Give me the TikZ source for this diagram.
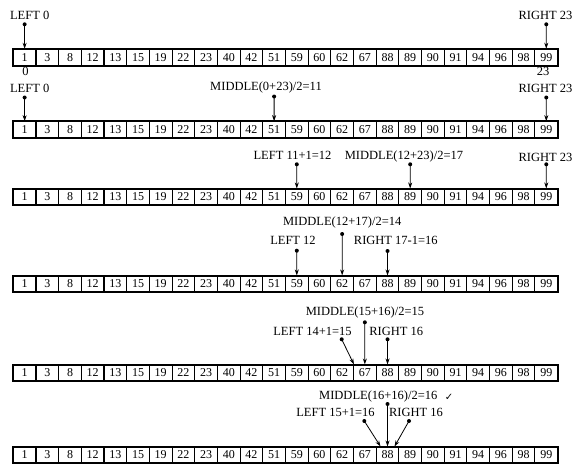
\documentclass[tikz,border=0pt]{standalone}
\usepackage{fontspec}
\setmainfont{Liberation Serif}
\newfontfamily\symfont{DejaVu Sans}
\usetikzlibrary{arrows.meta,calc}
\begin{document}
\begin{tikzpicture}[x=1pt,y=-1pt,
  cell/.style={draw, line width=1.1pt, minimum width=22.68pt, minimum height=16pt, inner sep=0pt, font=\fontsize{12}{12}\selectfont},
  lbl/.style={inner sep=0pt, anchor=base, font=\fontsize{12.5}{13}\selectfont},
  ptr/.style={-{Stealth[length=6pt,width=4pt]}, line width=0.8pt},
  dotc/.style={circle, fill, inner sep=0pt, minimum size=4pt}]
\useasboundingbox (0,0) rectangle (579,474);
\fill[white] (0,0) rectangle (579,474);
% arrays
\foreach \r/\t in {1/49.3, 2/121.7, 3/189, 4/276, 5/365, 6/447} {
  \foreach \v [count=\i from 0] in {1,3,8,12,13,15,19,22,23,40,42,51,59,60,62,67,88,89,90,91,94,96,98,99} {
    \node[cell] (r\r c\i) at ({13.3+22.68*(\i+0.5)}, {\t+8}) {\v};
  }
  \draw[line width=1.5pt] (r\r c0.north west) rectangle (r\r c23.south east);
}
% row 1
\node[lbl] (l1L) at (29.7,19) {LEFT 0};
\node[dotc] (d1L) at (24.64,24.3) {};
\draw[ptr] (d1L.center) -- (r1c0.north);
\node[lbl] (l1R) at (545.5,19) {RIGHT 23};
\node[dotc] (d1R) at (546.28,24.3) {};
\draw[ptr] (d1R.center) -- (r1c23.north);
\node[lbl] (i1L) at (25.5,75.5) {0};
\node[lbl] (i1R) at (543,75.5) {23};
% row 2
\node[lbl] (l2L) at (29.7,92) {LEFT 0};
\node[dotc] (d2L) at (24.64,97.5) {};
\draw[ptr] (d2L.center) -- (r2c0.north);
\node[lbl] (l2M) at (266,90.7) {MIDDLE(0+23)/2=11};
\node[dotc] (d2M) at (274.12,96.5) {};
\draw[ptr] (d2M.center) -- (r2c11.north);
\node[lbl] (l2R) at (545.5,92) {RIGHT 23};
\node[dotc] (d2R) at (546.28,97.5) {};
\draw[ptr] (d2R.center) -- (r2c23.north);
% row 3
\node[lbl] (l3L) at (292.5,159) {LEFT 11+1=12};
\node[dotc] (d3L) at (296.8,164.3) {};
\draw[ptr] (d3L.center) -- (r3c12.north);
\node[lbl] (l3M) at (404,159) {MIDDLE(12+23)/2=17};
\node[dotc] (d3M) at (410.2,164.3) {};
\draw[ptr] (d3M.center) -- (r3c17.north);
\node[lbl] (l3R) at (545.5,161) {RIGHT 23};
\node[dotc] (d3R) at (546.28,164.3) {};
\draw[ptr] (d3R.center) -- (r3c23.north);
% row 4
\node[lbl] (l4M) at (342.2,225.7) {MIDDLE(12+17)/2=14};
\node[dotc] (d4M) at (342.16,234) {};
\draw[ptr] (d4M.center) -- (r4c14.north);
\node[lbl] (l4L) at (293,244) {LEFT 12};
\node[dotc] (d4L) at (296.8,250.7) {};
\draw[ptr] (d4L.center) -- (r4c12.north);
\node[lbl] (l4R) at (395.8,244) {RIGHT 17-1=16};
\node[dotc] (d4R) at (387.52,251) {};
\draw[ptr] (d4R.center) -- (r4c16.north);
% row 5
\node[lbl] (l5M) at (365,315.7) {MIDDLE(15+16)/2=15};
\node[dotc] (d5M) at (364.84,322.3) {};
\draw[ptr] (d5M.center) -- (r5c15.north);
\node[lbl] (l5L) at (312.5,335.7) {LEFT 14+1=15};
\node[dotc] (d5L) at (341.7,339.3) {};
\draw[ptr] (d5L.center) -- ($(r5c15.north west)+(1,0)$);
\node[lbl] (l5R) at (396.3,335.7) {RIGHT 16};
\node[dotc] (d5R) at (387.52,339.3) {};
\draw[ptr] (d5R.center) -- (r5c16.north);
% row 6
\node[lbl] (l6M) at (378.3,399) {MIDDLE(16+16)/2=16};
\node[inner sep=0pt, anchor=base, font=\symfont\fontsize{10}{10}\selectfont] (chk) at (449,400) {✓};
\node[dotc] (d6M) at (387.52,404) {};
\draw[ptr] (d6M.center) -- (r6c16.north);
\node[lbl] (l6L) at (335.5,416.3) {LEFT 15+1=16};
\node[dotc] (d6L) at (364.3,421) {};
\draw[ptr] (d6L.center) -- ($(r6c16.north)+(-7,0)$);
\node[lbl] (l6R) at (416,416.3) {RIGHT 16};
\node[dotc] (d6R) at (409,421) {};
\draw[ptr] (d6R.center) -- ($(r6c16.north)+(7,0)$);
\end{tikzpicture}
\end{document}
